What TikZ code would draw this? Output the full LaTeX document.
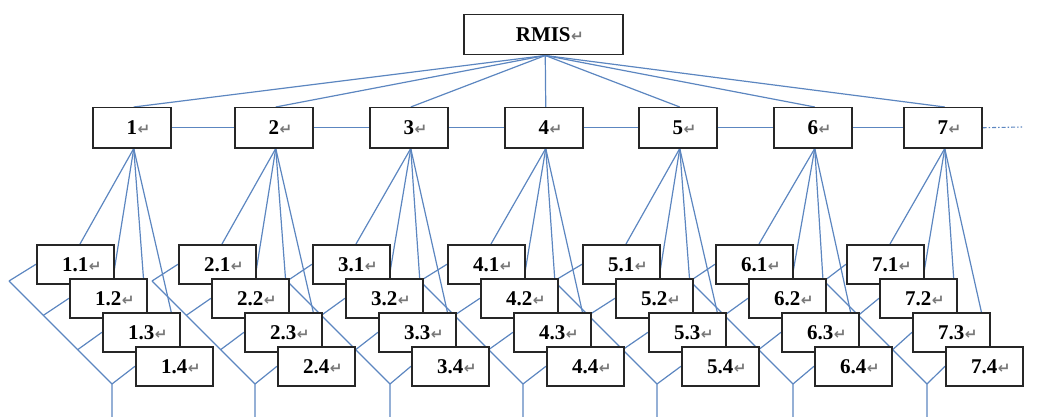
\documentclass[tikz,border=0pt]{standalone}
\usepackage{fontspec}
\setmainfont{Liberation Serif}
\newfontfamily\markfont{DejaVu Sans}
\usetikzlibrary{calc}
\pgfdeclarelayer{background}
\pgfsetlayers{background,main}
\definecolor{linkblue}{RGB}{92,134,192}
\definecolor{markgrey}{RGB}{120,120,120}
% paragraph mark hanging after a centred label
\newcommand{\pmark}{\rlap{\hspace{0.5pt}\textcolor{markgrey}{\markfont\fontsize{15}{15}\selectfont ↵}}}

\begin{document}
\begin{tikzpicture}[x=1pt,y=-1pt,
  box/.style={draw=black!85, line width=1.5pt, fill=white, inner sep=0pt,
    anchor=north west, font=\bfseries\fontsize{21}{25}\selectfont},
  topbox/.style={box, minimum width=159pt, minimum height=40pt},
  midbox/.style={box, minimum width=78pt, minimum height=40pt},
  leafbox/.style={box, minimum width=77pt, minimum height=39pt},
  link/.style={draw=linkblue, line width=1.2pt},
  tail/.style={draw=linkblue, line width=1.1pt, dash pattern=on 4pt off 2pt on 1.5pt off 2pt}]

\useasboundingbox (0,0) rectangle (1040,417);

% root
\node[topbox] (R) at (463,14) {RMIS\pmark};

% second level, its four sub-items and the joints of each bracket
\foreach \g/\lx/\cx/\tx in {1/92/36/112, 2/234/178/255, 3/369/312/390,
    4/504/447/523, 5/638/582/657, 6/773/715/793, 7/903/846/927} {
  \node[midbox] (L\g) at (\lx,107) {\g\pmark};
  \foreach \i in {1,...,4} {
    \pgfmathsetmacro\bx{\cx+33*(\i-1)}
    \pgfmathsetmacro\by{244+34*(\i-1)}
    \node[leafbox] (C\g-\i) at (\bx,\by) {\g.\i\pmark};
    \pgfmathsetmacro\dx{\tx-103+34.33*(\i-1)}
    \pgfmathsetmacro\dy{281+34.33*(\i-1)}
    \coordinate (D\g-\i) at (\dx,\dy);
  }
  \coordinate (B\g) at (\tx,417);
}
\coordinate (tailend) at (1022,127);

\begin{pgfonlayer}{background}
  % root to second level
  \foreach \g in {1,...,7} {
    \draw[link] ($(R.south)+(2,0)$) -- ($(L\g.north)+(2,0)$);
  }
  % chain along the second level
  \foreach \g in {1,...,6} {
    \pgfmathtruncatemacro\n{\g+1}
    \draw[link] (L\g.east) -- (L\n.west);
  }
  \draw[tail] (L7.east) -- (tailend);
  % fans and brackets of each group
  \foreach \g in {1,...,7} {
    \foreach \i in {1,...,4} {
      \draw[link] ($(L\g.south)+(2,0)$) -- ($(C\g-\i.north west)+(44,0)$);
      \draw[link] (D\g-\i) -- (C\g-\i.west);
    }
    \draw[link] (D\g-1) -- (D\g-4) -- (B\g);
  }
\end{pgfonlayer}
\end{tikzpicture}
\end{document}
